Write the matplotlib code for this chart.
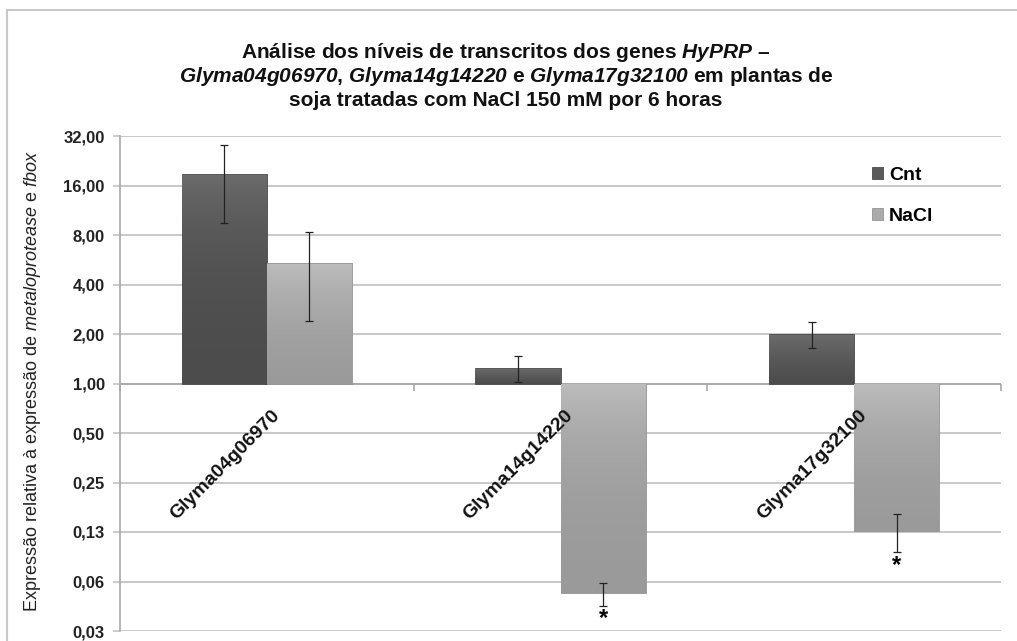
import numpy as np
import matplotlib
matplotlib.use("Agg")
import matplotlib.pyplot as plt
import matplotlib.transforms as mtransforms
from matplotlib.colors import LinearSegmentedColormap
from matplotlib.lines import Line2D

plt.rcParams['font.family'] = ['Liberation Sans', 'DejaVu Sans']
plt.rcParams['mathtext.fontset'] = 'custom'
plt.rcParams['mathtext.rm'] = 'Liberation Sans'
plt.rcParams['mathtext.it'] = 'Liberation Sans:italic'
plt.rcParams['mathtext.bf'] = 'Liberation Sans:bold'
plt.rcParams['mathtext.bfit'] = 'Liberation Sans:italic:bold'

# data
genes = ["Glyma04g06970", "Glyma14g14220", "Glyma17g32100"]
cnt = [18.9, 1.25, 2.0]
cnt_err = [9.5, 0.23, 0.35]
nacl = [5.4, 0.053, 0.127]
nacl_err = [3.0, 0.0085, 0.033]
nacl_signif = [False, True, True]
series_names = ["Cnt", "NaCl"]
yticks = [2.0 ** k for k in range(-5, 6)]
ytick_labels = ["0,03", "0,06", "0,13", "0,25", "0,50", "1,00",
                "2,00", "4,00", "8,00", "16,00", "32,00"]

W, H = 1017, 641
fig = plt.figure(figsize=(W / 100, H / 100), dpi=100)
ax = fig.add_axes([120 / W, 1 - 631 / H, (1001 - 120) / W, (631 - 136) / H])
ax.set_yscale('log', base=2)

x = np.arange(len(genes))
bw = 0.29
grid_c = '#c4c4c4'

bars_c = ax.bar(x - bw / 2, np.array(cnt) - 1, bottom=1, width=bw,
                color='#5a5a5a', edgecolor='#4a4a4a', linewidth=0.6, zorder=3,
                label=series_names[0])
bars_n = ax.bar(x + bw / 2, np.array(nacl) - 1, bottom=1, width=bw,
                color='#ababab', edgecolor='#949494', linewidth=0.6, zorder=3,
                label=series_names[1])

# vertical gradient inside each bar
grad = np.linspace(0, 1, 256).reshape(-1, 1)
cm_c = LinearSegmentedColormap.from_list('c', ['#6c6c6c', '#4c4c4c'])
cm_n = LinearSegmentedColormap.from_list('n', ['#bdbdbd', '#9a9a9a'])
for bars, cm in [(bars_c, cm_c), (bars_n, cm_n)]:
    for p in bars:
        x0, w = p.get_x(), p.get_width()
        y0, y1 = sorted([p.get_y(), p.get_y() + p.get_height()])
        im = ax.imshow(grad, cmap=cm, extent=[x0, x0 + w, y0, y1],
                       aspect='auto', origin='upper', zorder=3.5,
                       interpolation='bilinear')
        im.set_clip_path(p)

ax.errorbar(x - bw / 2, cnt, yerr=cnt_err, fmt='none', ecolor='#222222',
            elinewidth=0.9, capsize=3, capthick=0.9, zorder=5)
ax.errorbar(x + bw / 2, nacl, yerr=nacl_err, fmt='none', ecolor='#222222',
            elinewidth=0.9, capsize=3, capthick=0.9, zorder=5)

# significance marks
for i, s in enumerate(nacl_signif):
    if s:
        off = mtransforms.offset_copy(ax.transData, fig, x=0, y=-1, units='points')
        ax.text(x[i] + bw / 2, nacl[i] - nacl_err[i], '*', transform=off,
                ha='center', va='top', fontsize=17, fontweight='bold', zorder=6)

ax.set_xlim(-0.5, len(genes) - 0.5)
ax.set_ylim(yticks[0], yticks[-1])
ax.set_yticks(yticks)
ax.set_yticklabels(ytick_labels, fontsize=12, fontweight='bold', color='#222222')
ax.yaxis.set_minor_locator(matplotlib.ticker.NullLocator())
ax.tick_params(axis='y', length=5, width=1.2, color=grid_c, pad=6)
ax.set_xticks([])
ax.yaxis.grid(True, color=grid_c, linewidth=1.3, zorder=0)
ax.set_axisbelow(True)
for s in ['top', 'right', 'bottom']:
    ax.spines[s].set_visible(False)
ax.spines['left'].set_color('#a8a8a8')
ax.spines['left'].set_linewidth(1.2)

# category axis crossing at 1
ax.axhline(1, color='#a8a8a8', linewidth=1.3, zorder=2)
ax.plot(np.arange(len(genes) + 1) - 0.5, [1] * (len(genes) + 1), linestyle='none',
        marker=3, markersize=5, markeredgewidth=1.2, color='#a8a8a8', zorder=2,
        clip_on=False)

lab_tr = mtransforms.offset_copy(ax.transData, fig, x=3, y=-17, units='points')
for i, g in enumerate(genes):
    ax.text(x[i], 1, g, transform=lab_tr, rotation=45, rotation_mode='anchor',
            ha='right', va='top', fontsize=14, fontweight='bold', color='#111111',
            zorder=8)

leg = ax.legend(loc='upper left', bbox_to_anchor=(862 / W, 1 - 157 / H),
                bbox_transform=fig.transFigure, frameon=False, borderpad=0,
                handlelength=0.6, handleheight=0.6, handletextpad=0.3,
                labelspacing=1.25, prop={'size': 14, 'weight': 'bold'})

# title
title_lines = [
    r"Análise dos níveis de transcritos dos genes $\mathbfit{HyPRP}$ –",
    r"$\mathbfit{Glyma04g06970}$, $\mathbfit{Glyma14g14220}$ e "
    r"$\mathbfit{Glyma17g32100}$ em plantas de",
    "soja tratadas com NaCl 150 mM por 6 horas",
]
for ty, t in zip([52, 77, 101], title_lines):
    fig.text(506 / W, 1 - ty / H, t, ha='center', va='center', fontsize=15,
             fontweight='bold', color='#111111')

fig.text(33 / W, 1 - 381 / H,
         r"Expressão relativa à expressão de $\mathit{metaloprotease}$ e $\mathit{fbox}$",
         rotation=90, ha='center', va='center', fontsize=13, color='#222222')

# outer chart frame
fig.add_artist(Line2D([7 / W, 1.0], [1 - 10 / H] * 2, color='#c8c8c8', lw=1.5))
fig.add_artist(Line2D([7 / W] * 2, [0, 1 - 10 / H], color='#c8c8c8', lw=1.5))

fig.savefig("out.png", dpi=100)
